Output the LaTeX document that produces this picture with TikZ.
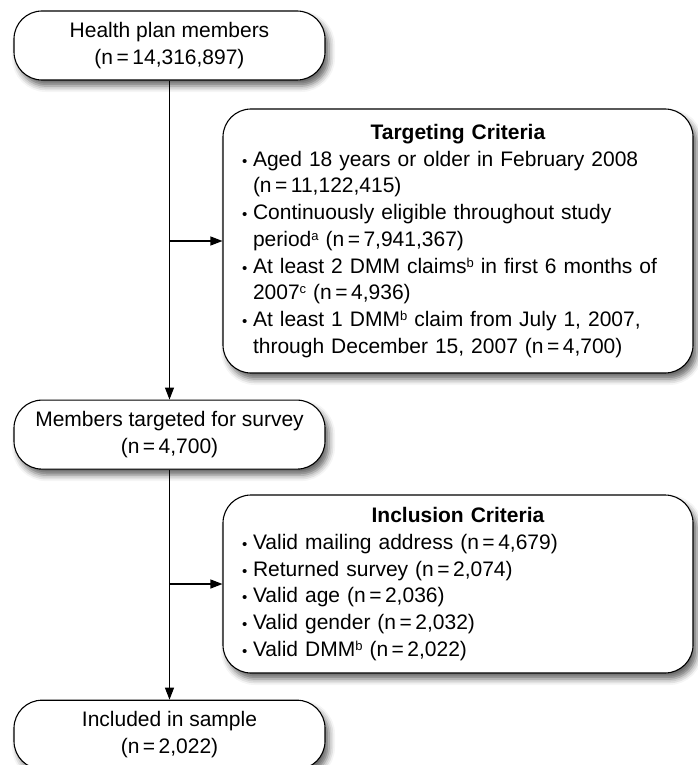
\documentclass[tikz,border=0pt]{standalone}
\usepackage{fontspec}
\setmainfont{Liberation Sans}
\usetikzlibrary{positioning, arrows.meta, shadows, shadows.blur}
\newcommand{\bul}{\makebox[11pt][l]{\fontsize{15}{15}\selectfont\textbullet}}
\newcommand{\ind}{\hspace*{11pt}}
\newcommand{\fnote}[1]{\raisebox{6pt}{\fontsize{13}{13}\selectfont #1}}

\begin{document}
\begin{tikzpicture}[x=1pt, y=-1pt,
        font=\fontsize{21}{26.75}\selectfont,
        flowbox/.style={draw, line width=1.1pt, rounded corners=28pt, fill=white,
            blur shadow={shadow xshift=4pt, shadow yshift=-6pt,
                shadow blur radius=6pt, shadow opacity=60}},
        member/.style={flowbox, minimum width=311pt, minimum height=69pt,
            align=center, inner sep=0pt},
        criteria/.style={flowbox, minimum width=470pt, text width=432pt,
            align=left, inner sep=0pt},
        node distance=319pt]
        \useasboundingbox (0,0) rectangle (698,765);
        \node[member] (members) at (169.5,45.5) {Health plan members\\(n\,=\,14,316,897)};
        \node[member, below=of members] (targeted) {Members targeted for survey\\(n\,=\,4,700)};
        \node[member, below=230pt of targeted] (sample) {Included in sample\\(n\,=\,2,022)};
        \node[criteria, minimum height=264pt] (target) at (458,241) {%
            \hfill\textbf{Targeting Criteria}\hfill\null\\
            \bul Aged 18 years or older in February 2008\\
            \ind (n\,=\,11,122,415)\\
            \bul Continuously eligible throughout study\\
            \ind period\fnote{a} (n\,=\,7,941,367)\\
            \bul At least 2 DMM claims\fnote{b} in first 6 months of\\
            \ind 2007\fnote{c} (n\,=\,4,936)\\
            \bul At least 1 DMM\fnote{b} claim from July 1, 2007,\\
            \ind through December 15, 2007 (n\,=\,4,700)};
        \node[criteria, minimum height=178pt] (incl) at (458,584) {%
            \hfill\textbf{Inclusion Criteria}\hfill\null\\
            \bul Valid mailing address (n\,=\,4,679)\\
            \bul Returned survey (n\,=\,2,074)\\
            \bul Valid age (n\,=\,2,036)\\
            \bul Valid gender (n\,=\,2,032)\\
            \bul Valid DMM\fnote{b} (n\,=\,2,022)};
        \coordinate (t) at (members.south |- target.west);
        \coordinate (i) at (targeted.south |- incl.west);
        \path[-{Triangle[length=12pt, width=9pt]}, line width=1.1pt]
        (members) edge (targeted)
        (t) edge (target)
        (targeted) edge (sample)
        (i) edge (incl);
    \end{tikzpicture}
\end{document}
